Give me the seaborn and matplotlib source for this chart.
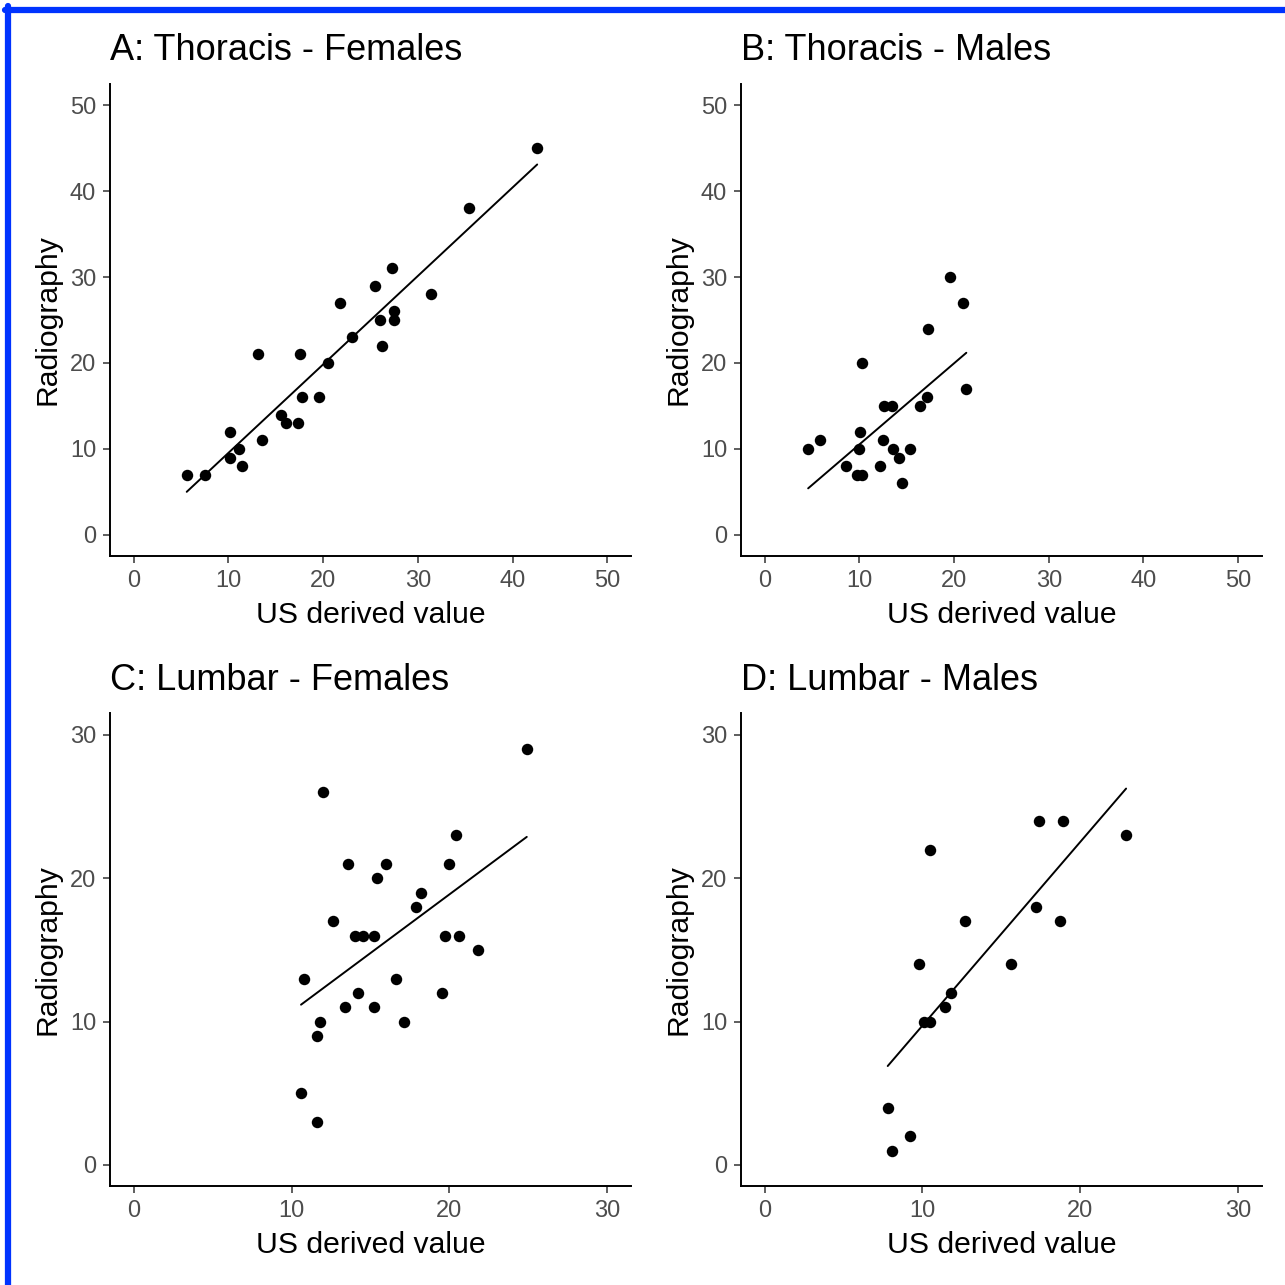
import seaborn as sns
import matplotlib.pyplot as plt
import pandas as pd

# Daten
a_us = [5.6, 7.5, 10.2, 10.2, 11.1, 11.4, 13.1, 13.5, 15.6, 16.1, 17.3, 17.6, 17.8,
        19.6, 20.5, 21.8, 23.0, 25.5, 26.0, 26.2, 27.3, 27.5, 27.5, 31.4, 35.4, 42.6]
a_rad = [7, 7, 12, 9, 10, 8, 21, 11, 14, 13, 13, 21, 16,
         16, 20, 27, 23, 29, 25, 22, 31, 26, 25, 28, 38, 45]

b_us = [4.6, 5.9, 8.6, 10.0, 10.1, 9.8, 10.3, 10.3, 12.2, 12.5, 12.6, 13.4, 13.6,
        14.2, 14.5, 15.3, 16.4, 17.1, 17.3, 19.6, 20.9, 21.3]
b_rad = [10, 11, 8, 10, 12, 7, 7, 20, 8, 11, 15, 15, 10,
         9, 6, 10, 15, 16, 24, 30, 27, 17]

c_us = [24.9, 12.0, 20.4, 13.6, 16.0, 20.0, 15.4, 18.2, 17.9, 12.6, 14.0, 14.5, 15.2,
        19.7, 20.6, 21.8, 10.8, 16.6, 14.2, 19.5, 13.4, 15.2, 11.8, 17.1, 11.6, 10.6, 11.6]
c_rad = [29, 26, 23, 21, 21, 21, 20, 19, 18, 17, 16, 16, 16,
         16, 16, 15, 13, 13, 12, 12, 11, 11, 10, 10, 9, 5, 3]

d_us = [17.4, 18.9, 22.9, 10.5, 17.2, 12.7, 18.7, 9.8, 15.6, 11.8, 11.4, 10.1, 10.5,
        7.8, 9.2, 8.1]
d_rad = [24, 24, 23, 22, 18, 17, 17, 14, 14, 12, 11, 10, 10,
         4, 2, 1]

titles = ["A: Thoracis - Females", "B: Thoracis - Males",
          "C: Lumbar - Females", "D: Lumbar - Males"]

sns.set_style("ticks")
plt.rcParams["font.family"] = ["Liberation Sans", "DejaVu Sans"]

fig, axes = plt.subplots(2, 2, figsize=(12.85, 12.85), dpi=100)
plt.subplots_adjust(left=0.0856, right=0.982, bottom=0.0767, top=0.935,
                    wspace=0.211, hspace=0.332)

panels = [(a_us, a_rad, 50, 10), (b_us, b_rad, 50, 10),
          (c_us, c_rad, 30, 10), (d_us, d_rad, 30, 10)]

for ax, (xs, ys, lim, step), title in zip(axes.flat, panels, titles):
    df = pd.DataFrame({"us": xs, "rad": ys})
    sns.regplot(data=df, x="us", y="rad", ax=ax, ci=None, color="black",
                scatter_kws={"s": 68, "linewidths": 0, "alpha": 1},
                line_kws={"linewidth": 1.4})
    ext = lim * 0.05
    ax.set_xlim(-ext, lim + ext)
    ax.set_ylim(-ext, lim + ext)
    ticks = list(range(0, lim + 1, step))
    ax.set_xticks(ticks)
    ax.set_yticks(ticks)
    ax.tick_params(labelsize=17, labelcolor="#4D4D4D", color="#333333",
                   length=5, width=1.1, pad=5)
    for s in ["left", "bottom"]:
        ax.spines[s].set_linewidth(1.4)
        ax.spines[s].set_color("black")
    sns.despine(ax=ax)
    ax.set_xlabel("US derived value", fontsize=21.7, labelpad=6, color="black")
    ax.set_ylabel("Radiography", fontsize=21.7, labelpad=6, color="black")
    ax.set_title(title, loc="left", fontsize=26, pad=17, color="black")

# blauer Rahmen oben und links
fig.add_artist(plt.Line2D([0.004, 1], [0.9923, 0.9923], color="#0033FF", linewidth=4.5))
fig.add_artist(plt.Line2D([0.0062, 0.0062], [0, 0.995], color="#0033FF", linewidth=4.5))

plt.savefig("out.png", dpi=100)
